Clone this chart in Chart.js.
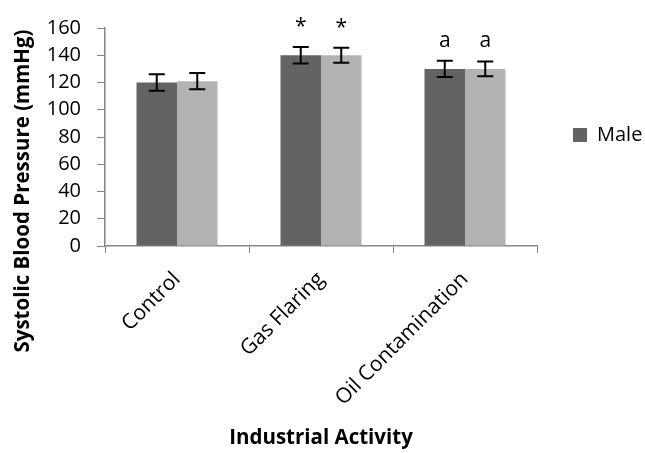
<!DOCTYPE html>
<html>
<head>
<meta charset="utf-8">
<script src="https://cdn.jsdelivr.net/npm/chart.js@4/dist/chart.umd.min.js"></script>
<style>
  html, body { margin: 0; padding: 0; background: #fff; }
  #wrap { width: 645px; height: 453px; position: relative; }
</style>
</head>
<body>
<div id="wrap"><canvas id="c" width="645" height="453"></canvas></div>
<script>
const categories = ['Control', 'Gas Flaring', 'Oil Contamination'];
const seriesNames = ['Male', 'Female'];
const maleValues = [120, 140, 130];
const femaleValues = [121, 140, 130];
const maleErrors = [6, 6, 6];
const femaleErrors = [6, 5.5, 5.5];
const maleMarks = ['', '*', 'a'];
const femaleMarks = ['', '*', 'a'];
const yTicks = [0, 20, 40, 60, 80, 100, 120, 140, 160];
const yTitle = 'Systolic Blood Pressure (mmHg)';
const xTitle = 'Industrial Activity';

const FONT = "'Open Sans', 'Liberation Sans', sans-serif";
const AXIS_GRAY = '#868686';

const errorBarPlugin = {
  id: 'errorBars',
  afterDatasetsDraw(chart) {
    const ctx = chart.ctx;
    const yScale = chart.scales.y;
    chart.data.datasets.forEach((ds, di) => {
      const meta = chart.getDatasetMeta(di);
      meta.data.forEach((bar, i) => {
        const v = ds.data[i];
        const e = ds.errors[i];
        const top = yScale.getPixelForValue(v + e);
        const bot = yScale.getPixelForValue(v - e);
        const x = bar.x;
        const cap = 8;
        ctx.save();
        ctx.strokeStyle = '#000';
        ctx.lineWidth = 2;
        ctx.beginPath();
        ctx.moveTo(x, top); ctx.lineTo(x, bot);
        ctx.moveTo(x - cap, top); ctx.lineTo(x + cap, top);
        ctx.moveTo(x - cap, bot); ctx.lineTo(x + cap, bot);
        ctx.stroke();
        const mark = ds.marks[i];
        if (mark) {
          ctx.fillStyle = '#000';
          ctx.font = '21px ' + FONT;
          ctx.textAlign = 'center';
          ctx.textBaseline = 'alphabetic';
          ctx.fillText(mark, x, top - 14);
        }
        ctx.restore();
      });
    });
  }
};

const titlesPlugin = {
  id: 'axisTitles',
  afterDraw(chart) {
    const ctx = chart.ctx;
    const area = chart.chartArea;
    ctx.save();
    ctx.fillStyle = '#000';
    ctx.font = 'bold 20.5px ' + FONT;
    ctx.textAlign = 'center';
    ctx.textBaseline = 'middle';
    ctx.fillText(xTitle, (area.left + area.right) / 2, 438);
    ctx.translate(23, 191);
    ctx.rotate(-Math.PI / 2);
    ctx.fillText(yTitle, 0, 0);
    ctx.restore();
  }
};

new Chart(document.getElementById('c'), {
  type: 'bar',
  data: {
    labels: categories,
    datasets: [
      { label: seriesNames[0], data: maleValues, errors: maleErrors, marks: maleMarks,
        backgroundColor: '#636363', borderWidth: 0 },
      { label: seriesNames[1], data: femaleValues, errors: femaleErrors, marks: femaleMarks,
        backgroundColor: '#b3b3b3', borderWidth: 0 }
    ]
  },
  options: {
    responsive: false,
    animation: false,
    devicePixelRatio: 1,
    layout: { padding: { left: 0, top: 21, right: 0, bottom: 0 } },
    datasets: { bar: { categoryPercentage: 0.5625, barPercentage: 1 } },
    plugins: {
      legend: {
        position: 'right',
        fullSize: false,
        align: 'start',
        maxWidth: 108,
        title: { display: true, text: ' ', font: { size: 10, lineHeight: 1 }, padding: { top: 51, bottom: 0 } },
        labels: {
          filter: (item) => item.datasetIndex === 0,
          boxWidth: 14, boxHeight: 14,
          padding: 36,
          color: '#000',
          font: { family: FONT, size: 20 }
        }
      },
      tooltip: { enabled: false }
    },
    scales: {
      x: {
        afterFit: (s) => { s.height = 207; },
        grid: { display: true, drawOnChartArea: false, drawTicks: true, tickLength: 7, color: AXIS_GRAY, offset: true },
        border: { display: true, color: AXIS_GRAY, width: 1.5 },
        ticks: { color: '#000', font: { family: FONT, size: 21 }, minRotation: 45, maxRotation: 45, padding: 14, autoSkip: false }
      },
      y: {
        min: 0, max: 160,
        afterFit: (s) => { s.width = 105; },
        afterBuildTicks: (s) => { s.ticks = yTicks.map(v => ({ value: v })); },
        grid: { display: true, drawOnChartArea: false, drawTicks: true, tickLength: 8, color: AXIS_GRAY },
        border: { display: true, color: AXIS_GRAY, width: 1.5 },
        ticks: { color: '#000', font: { family: FONT, size: 20 }, padding: 16 }
      }
    }
  },
  plugins: [errorBarPlugin, titlesPlugin]
});
</script>
</body>
</html>
